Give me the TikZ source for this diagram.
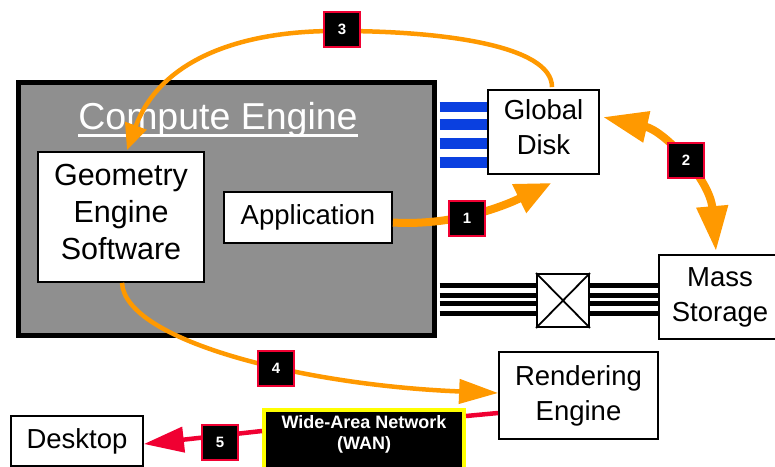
\documentclass[tikz,border=0pt]{standalone}
\usepackage{fontspec}
\setmainfont{Liberation Sans}
\usetikzlibrary{arrows.meta,calc}
\definecolor{ceGray}{RGB}{143,143,143}
\definecolor{arrOrange}{RGB}{255,153,0}
\definecolor{lblRed}{RGB}{240,0,50}
\definecolor{busBlue}{RGB}{10,64,224}
\definecolor{wanYellow}{RGB}{255,255,0}
\begin{document}
\begin{tikzpicture}[x=1pt,y=-1pt,
  box/.style={draw=black, line width=1.8pt, fill=white, inner sep=0pt, align=center,
    font=\fontsize{27.5pt}{35pt}\selectfont},
  numlab/.style={draw=lblRed, line width=2pt, fill=black, text=white, minimum width=36pt,
    minimum height=35pt, inner sep=0pt, font=\bfseries\fontsize{15pt}{15pt}\selectfont},
  flowthick/.style={draw=arrOrange, line width=8pt},
  flowthin/.style={draw=arrOrange, line width=4.5pt},
  redflow/.style={draw=lblRed, line width=4.5pt},
  bluebar/.style={draw=busBlue, line width=10.5pt},
  blackbar/.style={draw=black, line width=5.5pt},
]
\useasboundingbox (0,0) rectangle (775,466);

% Compute engine
\node[draw=black, fill=ceGray, line width=5pt, minimum width=416pt, minimum height=253pt, inner sep=0pt]
  (ce) at (226.5,209) {};
\node[anchor=base, inner sep=0pt, text=white, font=\fontsize{37.5pt}{40pt}\selectfont]
  (cetitle) at (218,129) {Compute Engine};
\draw[white, line width=3pt] ([yshift=-6pt]cetitle.base west) -- ([yshift=-6pt]cetitle.base east);

% boxes
\node[box, minimum width=166pt, minimum height=130pt, font=\fontsize{30.5pt}{37pt}\selectfont]
  (geo) at (121,217) {Geometry\\Engine\\Software\strut};
\node[box, minimum width=168pt, minimum height=51pt] (app) at (308,217.5) {Application};
\node[box, minimum width=111pt, minimum height=84pt] (gd) at (543.5,132) {Global\\Disk\strut};
\node[box, minimum width=122pt, minimum height=84pt] (ms) at (720,297) {Mass\\Storage};
\node[box, minimum width=52pt, minimum height=53pt] (xb) at (563,300.5) {};
\draw[line width=1.8pt] (xb.north west) -- (xb.south east) (xb.north east) -- (xb.south west);
\node[box, minimum width=159pt, minimum height=87pt] (rend) at (578.5,395.5) {Rendering\\Engine};
\node[box, minimum width=132pt, minimum height=50pt] (desk) at (77,441) {Desktop};
\node[draw=wanYellow, fill=black, line width=4pt, minimum width=200pt, minimum height=80pt,
  inner sep=0pt, anchor=north] (wan) at (364,408) {};
\node[anchor=north, inner sep=0pt, text=white, align=center,
  font=\bfseries\fontsize{18pt}{21pt}\selectfont] (wantxt) at (364,415) {Wide-Area Network\\(WAN)};

% buses
\foreach \yy in {107,124.5,143.5,162.5}
  \draw[bluebar] ($(ce.east |- 0,\yy)+(2.5,0)$) -- (gd.west |- 0,\yy);
\foreach \yy in {285.3,295.5,303.3,313.3}{
  \draw[blackbar] ($(ce.east |- 0,\yy)+(2.5,0)$) -- (xb.west |- 0,\yy);
  \draw[blackbar] (xb.east |- 0,\yy) -- (ms.west |- 0,\yy);
}

% flows
\draw[flowthick, -{Triangle[length=36pt,width=30pt]}]
  ($(app.east)+(0,5)$) .. controls (450,226) and (500,208) .. ($(gd.south)+(8,8)$);
\draw[flowthick, {Triangle[length=45pt,width=30pt]}-{Triangle[length=45pt,width=30pt]}]
  ($(gd.east)+(3,-15)$) .. controls (665,131) and (710,180) .. ($(ms.north)+(-4,-3)$);
\draw[flowthin, -{Triangle[length=26pt,width=22pt]}]
  ($(gd.north)+(8.5,-2)$) .. controls (552,45) and (440,31) .. (340,31)
  .. controls (240,30) and (160,60) .. ($(geo.north)+(6,-1)$);
\draw[flowthin, -{Triangle[length=39pt,width=24pt]}]
  ($(geo.south)+(1,0)$) .. controls (125,340) and (300,385) .. ($(rend.west)+(0,-2.5)$);
\draw[redflow, -{Triangle[length=40pt,width=25pt]}]
  ($(wan.north west)+(0,23)$) -- ($(desk.east)+(0,3)$);
\draw[redflow] ($(rend.west)+(0,17.5)$) -- ($(wan.north east)+(0,8)$);

% number labels
\node[numlab] (n1) at (467,218) {1};
\node[numlab] (n2) at (686,160) {2};
\node[numlab] (n3) at (342,29) {3};
\node[numlab] (n4) at (276,368) {4};
\node[numlab] (n5) at (220,442) {5};
\end{tikzpicture}
\end{document}
